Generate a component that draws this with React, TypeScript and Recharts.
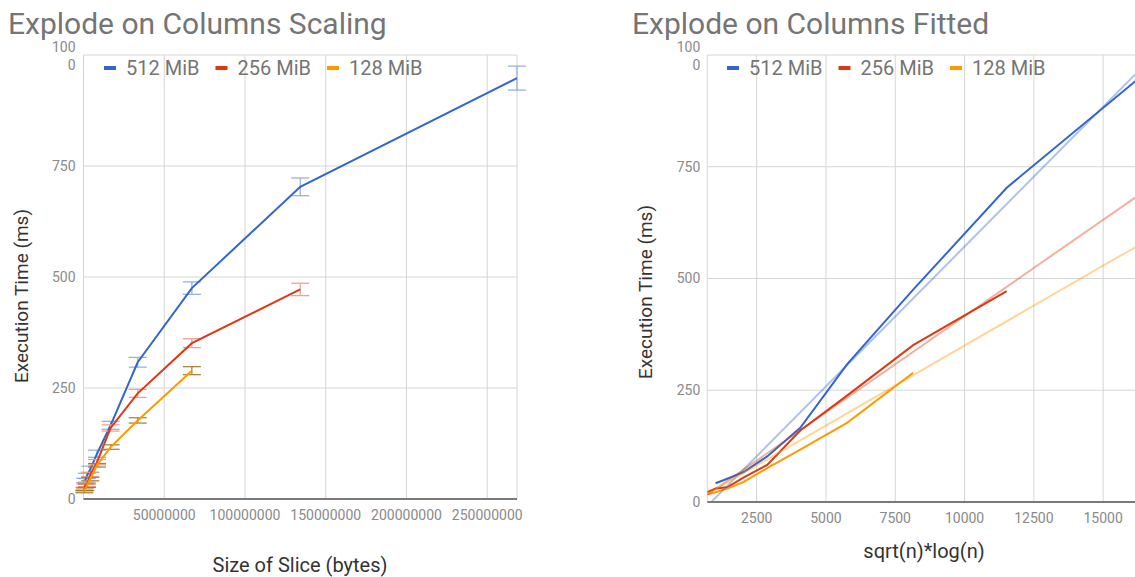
import { LineChart, Line, XAxis, YAxis, CartesianGrid, ErrorBar } from "recharts";

// slice sizes in bytes, 512 KiB .. 256 MiB
const SLICE_BYTES = [
  524288, 1048576, 2097152, 4194304, 8388608, 16777216, 33554432, 67108864,
  134217728, 268435456,
];
// the same slices on the sqrt(n)*log(n) scale
const SQRT_N_LOG_N = [720, 1018, 1440, 2036, 2880, 4073, 5760, 8146, 11520, 16292];

// execution times (ms); the 512 MiB run starts at the 1 MiB slice
const MS_512 = [42, 52, 67, 102, 166, 308, 475, 703, 948];
const ERR_512 = [5, 6, 7, 8, 9, 11, 14, 20, 27];
const MS_256 = [22, 30, 33, 55, 83, 160, 238, 351, 472];
const ERR_256 = [4, 4, 5, 5, 6, 7, 9, 10, 14];
const MS_128 = [17, 22, 30, 45, 76, 117, 177, 289];
const ERR_128 = [3, 3, 4, 4, 4, 5, 6, 9];

// linear fits, evaluated at both ends of the x range
const FIT_X = [720, 16292];
const FIT_512 = [-9, 965];
const FIT_256 = [16, 687];
const FIT_128 = [18, 575];

const Y_TICKS = [0, 250, 500, 750, 1000];
const BYTES_TICKS = [50000000, 100000000, 150000000, 200000000, 250000000];
const FITTED_TICKS = [2500, 5000, 7500, 10000, 12500, 15000];

const SERIES = [
  { name: "512 MiB", color: "#3366cc", errColor: "#8eaae6", start: 1, ms: MS_512, err: ERR_512, fit: FIT_512 },
  { name: "256 MiB", color: "#dc3912", errColor: "#f09a8a", start: 0, ms: MS_256, err: ERR_256, fit: FIT_256 },
  { name: "128 MiB", color: "#ff9900", errColor: "#a97a30", start: 0, ms: MS_128, err: ERR_128, fit: FIT_128 },
];

const FONT = "Roboto, sans-serif";
const tickStyle = { fill: "#8a8a8a", fontSize: 14, fontFamily: FONT };

const YTick = (props: any) => {
  const { x, y, payload } = props;
  if (payload.value === 1000) {
    // the label wraps onto two lines
    return (
      <text x={x} y={y} textAnchor="end" {...tickStyle}>
        <tspan x={x} dy={-3}>100</tspan>
        <tspan x={x} dy={18}>0</tspan>
      </text>
    );
  }
  return (
    <text x={x} y={y} dy="0.355em" textAnchor="end" {...tickStyle}>
      {payload.value}
    </text>
  );
};

const bytesRows = (s: (typeof SERIES)[number]) =>
  s.ms.map((v, i) => ({ x: SLICE_BYTES[i + s.start], y: v, err: s.err[i] }));

const fittedRows = (s: (typeof SERIES)[number]) =>
  s.ms.map((v, i) => ({ x: SQRT_N_LOG_N[i + s.start], y: v }));

const fitRows = (s: (typeof SERIES)[number]) =>
  FIT_X.map((x, i) => ({ x, y: s.fit[i] }));

const Legend = ({ left }: { left: number }) => (
  <g>
    {SERIES.map((s, i) => (
      <g key={s.name}>
        <rect x={left + i * 111.5} y={66} width={12} height={4} fill={s.color} />
        <text x={left + 22 + i * 111.5} y={75} fontSize={20} fill="#757575" fontFamily={FONT}>
          {s.name}
        </text>
      </g>
    ))}
  </g>
);

export default function App() {
  return (
    <div
      style={{
        position: "absolute",
        left: 0,
        top: 0,
        width: 1135,
        height: 577,
        overflow: "hidden",
        background: "#fff",
      }}
    >
      <div style={{ position: "absolute", left: 0, top: 0 }}>
        <LineChart width={560} height={577} margin={{ top: 55, right: 43, bottom: 48, left: 0 }}>
          <CartesianGrid stroke="#d6d6d6" />
          <XAxis
            type="number"
            dataKey="x"
            domain={[0, 268435456]}
            ticks={BYTES_TICKS}
            height={30}
            tickSize={0}
            tickMargin={11}
            tick={tickStyle}
            axisLine={{ stroke: "#7a7a7a", strokeWidth: 2 }}
            allowDataOverflow
          />
          <YAxis
            type="number"
            domain={[0, 1000]}
            ticks={Y_TICKS}
            width={83.5}
            tickSize={0}
            tickMargin={8}
            tick={<YTick />}
            axisLine={false}
          />
          {SERIES.map((s) => (
            <Line
              key={s.name}
              data={bytesRows(s)}
              dataKey="y"
              stroke={s.color}
              strokeWidth={2}
              dot={false}
              activeDot={false}
              isAnimationActive={false}
            >
              <ErrorBar dataKey="err" width={9} stroke={s.errColor} strokeWidth={1.2} direction="y" />
            </Line>
          ))}
        </LineChart>
      </div>

      <div style={{ position: "absolute", left: 620, top: 0 }}>
        <LineChart width={519} height={577} margin={{ top: 55, right: 0, bottom: 45, left: 0 }}>
          <CartesianGrid stroke="#d6d6d6" />
          <XAxis
            type="number"
            dataKey="x"
            domain={[720, 16292]}
            ticks={FITTED_TICKS}
            height={30}
            tickSize={0}
            tickMargin={11}
            tick={tickStyle}
            axisLine={{ stroke: "#7a7a7a", strokeWidth: 2 }}
            allowDataOverflow
          />
          <YAxis
            type="number"
            domain={[0, 1000]}
            ticks={Y_TICKS}
            width={87.3}
            tickSize={0}
            tickMargin={7}
            tick={<YTick />}
            axisLine={false}
            allowDataOverflow
          />
          {SERIES.map((s) => (
            <Line
              key={s.name}
              data={fittedRows(s)}
              dataKey="y"
              stroke={s.color}
              strokeWidth={2}
              dot={false}
              activeDot={false}
              isAnimationActive={false}
            />
          ))}
          {SERIES.map((s) => (
            <Line
              key={s.name + " fit"}
              data={fitRows(s)}
              dataKey="y"
              stroke={s.color}
              strokeOpacity={0.4}
              strokeWidth={2}
              dot={false}
              activeDot={false}
              isAnimationActive={false}
            />
          ))}
        </LineChart>
      </div>

      <svg
        width={1135}
        height={577}
        style={{ position: "absolute", left: 0, top: 0, pointerEvents: "none" }}
      >
        <text x={8} y={34} fontSize={30} fill="#757575" fontFamily={FONT}>
          Explode on Columns Scaling
        </text>
        <text x={632} y={34} fontSize={30} fill="#757575" fontFamily={FONT}>
          Explode on Columns Fitted
        </text>
        <Legend left={104} />
        <Legend left={727} />
        <text
          transform="translate(28 296) rotate(-90)"
          textAnchor="middle"
          fontSize={19}
          fill="#333"
          fontFamily={FONT}
        >
          Execution Time (ms)
        </text>
        <text
          transform="translate(652 292) rotate(-90)"
          textAnchor="middle"
          fontSize={19}
          fill="#333"
          fontFamily={FONT}
        >
          Execution Time (ms)
        </text>
        <text x={300} y={572} textAnchor="middle" fontSize={20} fill="#333" fontFamily={FONT}>
          Size of Slice (bytes)
        </text>
        <text x={924} y={558} textAnchor="middle" fontSize={20} fill="#333" fontFamily={FONT}>
          sqrt(n)*log(n)
        </text>
      </svg>
    </div>
  );
}
